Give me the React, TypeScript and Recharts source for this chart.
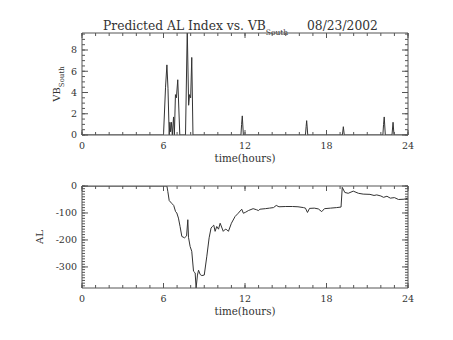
import React from 'react';
import { LineChart, Line, XAxis, YAxis } from 'recharts';

// VB south (top panel), hours vs value
const vbHours = [
  0, 6.0, 6.15, 6.25, 6.33, 6.42, 6.47, 6.52, 6.58, 6.65, 6.74, 6.8, 6.88, 6.95, 7.05, 7.2,
  7.62, 7.75, 7.85, 7.92, 8.0, 8.08, 8.17, 11.7, 11.75, 11.8, 11.88, 16.45, 16.5, 16.54, 16.62,
  19.17, 19.24, 19.31, 22.15, 22.2, 22.25, 22.33, 22.82, 22.9, 22.97, 24,
];
const vbValues = [
  0, 0, 4.5, 6.6, 4.4, 0, 1.2, 0.3, 1.2, 0, 1.7, 0, 3.8, 3.5, 5.2, 0,
  0, 9.9, 2.8, 3.8, 3.5, 7.3, 0, 0, 1.0, 1.8, 0, 0, 0.8, 1.35, 0,
  0, 0.78, 0, 0, 1.0, 1.7, 0, 0, 1.2, 0, 0,
];

// predicted AL (bottom panel)
const alHours = [
  0, 6.25, 6.32, 6.42, 6.6, 6.75, 6.89, 6.98, 7.1, 7.22, 7.35, 7.55, 7.7, 7.79, 7.84, 7.96,
  8.08, 8.21, 8.33, 8.4, 8.5, 8.58, 8.7, 8.82, 9.0, 9.19, 9.36, 9.5, 9.6, 9.7, 9.8, 9.92,
  10.05, 10.17, 10.4, 10.55, 10.66, 10.78, 11.0, 11.27, 11.5, 11.76, 11.88, 12.05, 12.25, 12.6,
  12.85, 12.99, 13.1, 13.5, 13.8, 14.1, 14.3, 14.5, 15.0, 15.5, 15.9, 16.3, 16.45, 16.6, 16.75,
  17.1, 17.4, 17.65, 17.85, 18.3, 18.75, 19.07, 19.16, 19.35, 19.6, 19.97, 20.35, 20.7, 21.2,
  21.5, 21.7, 22.0, 22.2, 22.45, 22.7, 23.0, 23.3, 23.7, 24,
];
const alValues = [
  0, 0, -21, -54, -64, -72, -95, -100, -119, -150, -187, -192, -185, -125, -190, -224,
  -242, -316, -322, -378, -330, -312, -328, -332, -330, -260, -192, -156, -150, -145, -168, -150,
  -160, -138, -168, -160, -162, -168, -138, -113, -101, -86, -101, -97, -91, -84,
  -88, -91, -86, -84, -82, -80, -72, -77, -76, -76, -77, -80, -82, -98, -83,
  -82, -85, -95, -84, -82, -80, -78, -5, -24, -27, -19, -27, -30, -31,
  -35, -33, -37, -42, -38, -45, -43, -50, -49, -45,
];

const hourTicks = [0, 6, 12, 18, 24];
const hourMinor = [0, 1, 2, 3, 4, 5, 6, 7, 8, 9, 10, 11, 12, 13, 14, 15, 16, 17, 18, 19, 20, 21, 22, 23, 24];
const vbTicks = [0, 2, 4, 6, 8];
const vbMinor = [0, 0.5, 1, 1.5, 2, 2.5, 3, 3.5, 4, 4.5, 5, 5.5, 6, 6.5, 7, 7.5, 8, 8.5, 9, 9.5];
const alTicks = [0, -100, -200, -300];
const alMinor = [
  0, -10, -20, -30, -40, -50, -60, -70, -80, -90, -100, -110, -120, -130, -140, -150, -160, -170,
  -180, -190, -200, -210, -220, -230, -240, -250, -260, -270, -280, -290, -300, -310, -320, -330,
  -340, -350, -360, -370,
];

const vbData = vbHours.map((t, i) => ({ t, v: vbValues[i] }));
const alData = alHours.map((t, i) => ({ t, v: alValues[i] }));

const FONT = 'DejaVu Serif';
const INK = '#333';
const FRAME = '#555';
const tickStyle = { fontFamily: FONT, fontSize: 9.5, fill: INK };

const NoLabel = () => <g />;

const SideLabel = (props: any) => {
  const vb = props.viewBox || { x: 0, y: 0, width: 82, height: 100 };
  const cx = vb.x + props.dx;
  const cy = vb.y + vb.height / 2;
  return (
    <text
      x={cx}
      y={cy}
      transform={`rotate(-90 ${cx} ${cy})`}
      textAnchor="middle"
      fontFamily={FONT}
      fontSize={10}
      fill={INK}
    >
      {props.text}
      {props.sub ? (
        <tspan fontSize={7} dy={4}>
          {props.sub}
        </tspan>
      ) : null}
    </text>
  );
};

const Panel = ({ data, yDomain, yTicks, yMinor, top, height, marginTop, label, sub, labelDx }: any) => {
  const xDomain = [0, 24];
  // inward ticks on all four sides, like the IDL plot frame
  const fx = { type: 'number' as const, allowDataOverflow: true, tick: NoLabel, interval: 0 as const, domain: xDomain, mirror: true, stroke: FRAME, dataKey: 't', height: 0.01 };
  const fy = { type: 'number' as const, allowDataOverflow: true, tick: NoLabel, interval: 0 as const, domain: yDomain, mirror: true, stroke: FRAME, width: 0.01 };
  const ghost = { type: 'linear' as const, dataKey: 'v', stroke: 'none', dot: false, isAnimationActive: false, legendType: 'none' as const };
  return (
    <div style={{ position: 'absolute', left: 0, top, width: 453, height }}>
      <LineChart width={453} height={height} data={data} margin={{ top: marginTop, right: 45, bottom: 0, left: 0 }}>
        <XAxis
          xAxisId="main"
          type="number"
          dataKey="t"
          domain={xDomain}
          allowDataOverflow
          ticks={hourTicks}
          interval={0}
          tickLine={false}
          tickSize={0}
          tickMargin={7}
          height={30}
          stroke={FRAME}
          tick={tickStyle}
          label={{ value: 'time(hours)', position: 'insideBottom', offset: 3, fontFamily: FONT, fontSize: 10.3, fill: INK }}
        />
        <YAxis
          yAxisId="main"
          type="number"
          domain={yDomain}
          allowDataOverflow
          ticks={yTicks}
          interval={0}
          tickLine={false}
          tickSize={0}
          tickMargin={5}
          width={82}
          stroke={FRAME}
          tick={tickStyle}
          label={<SideLabel text={label} sub={sub} dx={labelDx} />}
        />
        <XAxis xAxisId="bMaj" {...fx} orientation="bottom" ticks={hourTicks} tickSize={5} axisLine={false} />
        <XAxis xAxisId="bMin" {...fx} orientation="bottom" ticks={hourMinor} tickSize={3} axisLine={false} />
        <XAxis xAxisId="tMaj" {...fx} orientation="top" ticks={hourTicks} tickSize={5} />
        <XAxis xAxisId="tMin" {...fx} orientation="top" ticks={hourMinor} tickSize={3} axisLine={false} />
        <YAxis yAxisId="lMaj" {...fy} orientation="left" ticks={yTicks} tickSize={6} axisLine={false} />
        <YAxis yAxisId="lMin" {...fy} orientation="left" ticks={yMinor} tickSize={3} axisLine={false} />
        <YAxis yAxisId="rMaj" {...fy} orientation="right" ticks={yTicks} tickSize={6} />
        <YAxis yAxisId="rMin" {...fy} orientation="right" ticks={yMinor} tickSize={3} axisLine={false} />
        <Line {...ghost} xAxisId="bMaj" yAxisId="lMaj" />
        <Line {...ghost} xAxisId="bMin" yAxisId="lMin" />
        <Line {...ghost} xAxisId="tMaj" yAxisId="rMaj" />
        <Line {...ghost} xAxisId="tMin" yAxisId="rMin" />
        <Line
          xAxisId="main"
          yAxisId="main"
          type="linear"
          dataKey="v"
          stroke={INK}
          strokeWidth={1}
          dot={false}
          isAnimationActive={false}
        />
      </LineChart>
    </div>
  );
};

export default function App() {
  return (
    <div style={{ position: 'absolute', left: 0, top: 0, width: 453, height: 340, background: '#fff' }}>
      <svg width={453} height={40} style={{ position: 'absolute', left: 0, top: 0 }}>
        <text x={103} y={30} fontFamily={FONT} fontSize={12.3} fill={INK}>
          Predicted AL Index vs. VB
          <tspan fontSize={7.5} dy={5}>South</tspan>
        </text>
        <text x={307} y={30} fontFamily={FONT} fontSize={12.3} fill={INK}>
          08/23/2002
        </text>
      </svg>
      <Panel data={vbData} yDomain={[0, 9.6]} yTicks={vbTicks} yMinor={vbMinor} top={0} height={165} marginTop={33} label="VB" sub="South" labelDx={60} />
      <Panel data={alData} yDomain={[-378, 0]} yTicks={alTicks} yMinor={alMinor} top={150} height={168} marginTop={36} label="AL" labelDx={43} />
    </div>
  );
}
